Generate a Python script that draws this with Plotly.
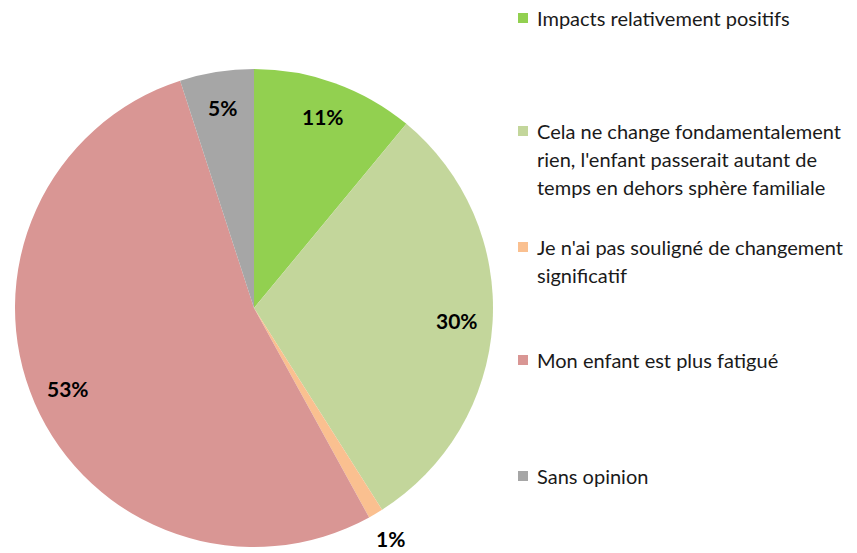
import math
import plotly.graph_objects as go

categories = [
    "Impacts relativement positifs",
    "Cela ne change fondamentalement rien, l'enfant passerait autant de temps en dehors sphère familiale",
    "Je n'ai pas souligné de changement significatif",
    "Mon enfant est plus fatigué",
    "Sans opinion",
]
legend_lines = [
    ["Impacts relativement positifs"],
    ["Cela ne change fondamentalement", "rien, l'enfant passerait autant de", "temps en dehors sphère familiale"],
    ["Je n'ai pas souligné de changement", "significatif"],
    ["Mon enfant est plus fatigué"],
    ["Sans opinion"],
]
values = [11, 30, 1, 53, 5]
colors = ["#92D050", "#C3D69B", "#FAC090", "#D99694", "#A6A6A6"]

W, H = 857, 553
cx, cy, R = 254, 308, 239
FONT = "Lato"

fig = go.Figure()
fig.add_trace(go.Pie(
    labels=categories, values=values, sort=False, direction="clockwise",
    rotation=0, marker=dict(colors=colors, line=dict(width=0)),
    textinfo="none", hoverinfo="label+percent", showlegend=False,
    domain=dict(x=[(cx - R) / W, (cx + R) / W], y=[1 - (cy + R) / H, 1 - (cy - R) / H]),
))

annotations = []
# data labels positioned from cumulative angles
total = sum(values)
cum = 0
for v in values:
    mid = (cum + v / 2) / total * 2 * math.pi
    cum += v
    pct = round(v / total * 100)
    f = 1.12 if pct < 3 else 0.85
    px = cx + f * R * math.sin(mid)
    py = cy - f * R * math.cos(mid)
    annotations.append(dict(
        x=px / W, y=1 - py / H, xref="paper", yref="paper", showarrow=False,
        text=f"<b>{pct}%</b>", font=dict(family=FONT, size=21, color="#000000"),
        xanchor="center", yanchor="middle",
    ))

# legend
legend_y = [18, 131, 247, 360, 476]
line_gap = 28
shapes = []
for lines, y0, col in zip(legend_lines, legend_y, colors):
    shapes.append(dict(type="rect", xref="paper", yref="paper",
                       x0=518 / W, x1=528 / W, y0=1 - (y0 + 5) / H, y1=1 - (y0 - 5) / H,
                       fillcolor=col, line=dict(width=0)))
    for i, ln in enumerate(lines):
        annotations.append(dict(
            x=535 / W, y=1 - (y0 + i * line_gap) / H, xref="paper", yref="paper",
            showarrow=False, text=ln, xanchor="left", yanchor="middle",
            font=dict(family=FONT, size=20, color="#1a1a1a"),
        ))

fig.update_layout(
    width=W, height=H, margin=dict(l=0, r=0, t=0, b=0),
    paper_bgcolor="white", plot_bgcolor="white",
    annotations=annotations, shapes=shapes, showlegend=False,
)
fig.write_html("out.html", config={"displayModeBar": False},
               post_script="document.body.style.margin='0';")
